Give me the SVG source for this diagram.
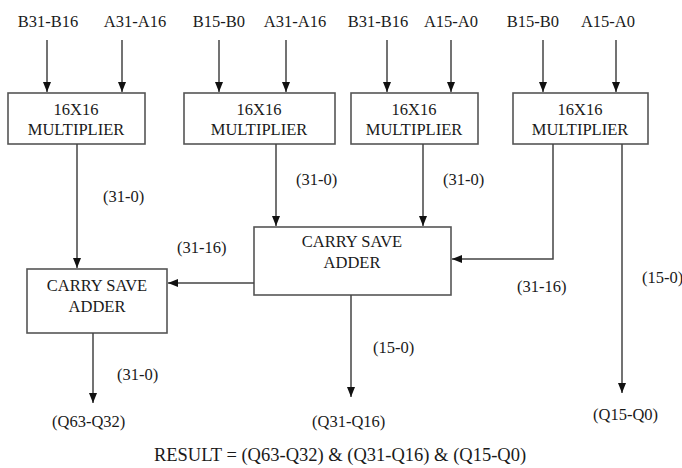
<svg xmlns="http://www.w3.org/2000/svg" width="682" height="468" viewBox="0 0 682 468">
<style>
text{font-size:16.5px;fill:#1a1a1a}
.c{text-anchor:middle}
.big{font-size:18.5px}
.box{fill:#fff;stroke:#555;stroke-width:1.6}
.ln{fill:none;stroke:#444;stroke-width:1.5}
</style>
<defs>
<marker id="ah" markerUnits="userSpaceOnUse" markerWidth="10" markerHeight="10" viewBox="0 0 10 10" refX="10" refY="5" orient="auto">
<path d="M0,1 L10,5 L0,9 Z" fill="#111"/>
</marker>
</defs>
<rect width="682" height="468" fill="#fff"/>
<g font-family="'Liberation Serif', 'DejaVu Serif', serif">
<g id="inputs">
<text class="c" x="48" y="27">B31-B16</text>
<text class="c" x="135" y="27">A31-A16</text>
<text class="c" x="219" y="27">B15-B0</text>
<text class="c" x="295" y="27">A31-A16</text>
<text class="c" x="378" y="27">B31-B16</text>
<text class="c" x="451" y="27">A15-A0</text>
<text class="c" x="533" y="27">B15-B0</text>
<text class="c" x="608" y="27">A15-A0</text>
</g>
<g id="mult1"><rect class="box" x="8" y="93" width="137" height="51"/><text class="c" x="76" y="115">16X16</text><text class="c" x="76" y="135">MULTIPLIER</text></g>
<g id="mult2"><rect class="box" x="184" y="93" width="151" height="51"/><text class="c" x="259" y="115">16X16</text><text class="c" x="259" y="135">MULTIPLIER</text></g>
<g id="mult3"><rect class="box" x="351" y="93" width="127" height="51"/><text class="c" x="414" y="115">16X16</text><text class="c" x="414" y="135">MULTIPLIER</text></g>
<g id="mult4"><rect class="box" x="513" y="93" width="135" height="51"/><text class="c" x="580" y="115">16X16</text><text class="c" x="580" y="135">MULTIPLIER</text></g>
<g id="csa2"><rect class="box" x="254" y="227" width="197" height="68"/><text class="c" x="352" y="247">CARRY SAVE</text><text class="c" x="352" y="268">ADDER</text></g>
<g id="csa1"><rect class="box" x="27" y="269" width="140" height="64"/><text class="c" x="97" y="291">CARRY SAVE</text><text class="c" x="97" y="312">ADDER</text></g>
<g id="connectors">
<line class="ln" x1="47" y1="40" x2="47" y2="92" marker-end="url(#ah)"/>
<line class="ln" x1="122" y1="40" x2="122" y2="92" marker-end="url(#ah)"/>
<line class="ln" x1="219" y1="40" x2="219" y2="92" marker-end="url(#ah)"/>
<line class="ln" x1="286" y1="40" x2="286" y2="92" marker-end="url(#ah)"/>
<line class="ln" x1="387" y1="40" x2="387" y2="92" marker-end="url(#ah)"/>
<line class="ln" x1="451" y1="40" x2="451" y2="92" marker-end="url(#ah)"/>
<line class="ln" x1="543" y1="40" x2="543" y2="92" marker-end="url(#ah)"/>
<line class="ln" x1="616" y1="40" x2="616" y2="92" marker-end="url(#ah)"/>
<line class="ln" x1="77" y1="144" x2="77" y2="268" marker-end="url(#ah)"/>
<line class="ln" x1="276" y1="144" x2="276" y2="226" marker-end="url(#ah)"/>
<line class="ln" x1="423" y1="144" x2="423" y2="226" marker-end="url(#ah)"/>
<polyline class="ln" points="553,144 553,259 452,259" marker-end="url(#ah)"/>
<line class="ln" x1="622" y1="144" x2="622" y2="393" marker-end="url(#ah)"/>
<line class="ln" x1="254" y1="283" x2="168" y2="283" marker-end="url(#ah)"/>
<line class="ln" x1="93" y1="333" x2="93" y2="403" marker-end="url(#ah)"/>
<line class="ln" x1="351" y1="295" x2="351" y2="397" marker-end="url(#ah)"/>
</g>
<g id="labels">
<text x="103" y="202">(31-0)</text>
<text x="296" y="185">(31-0)</text>
<text x="443" y="185">(31-0)</text>
<text x="177" y="253">(31-16)</text>
<text x="517" y="292">(31-16)</text>
<text x="642" y="283">(15-0)</text>
<text x="373" y="353">(15-0)</text>
<text x="117" y="380">(31-0)</text>
<text x="52" y="427">(Q63-Q32)</text>
<text x="312" y="427">(Q31-Q16)</text>
<text x="593" y="420">(Q15-Q0)</text>
<text class="c big" x="340" y="461">RESULT = (Q63-Q32) &amp; (Q31-Q16) &amp; (Q15-Q0)</text>
</g>
</g>
</svg>
